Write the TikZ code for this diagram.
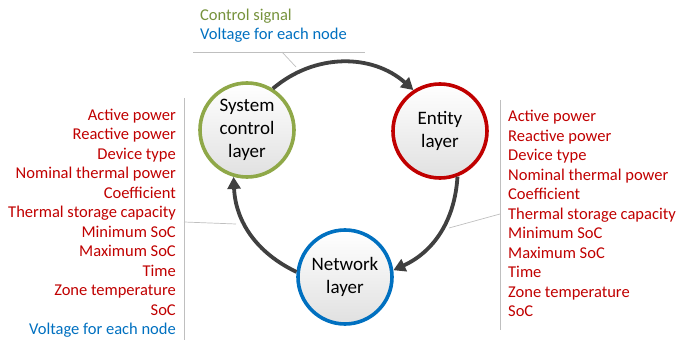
\documentclass[tikz,border=0pt]{standalone}
\usepackage{fontspec}
\setmainfont{Carlito}
\usetikzlibrary{arrows.meta}
\definecolor{cred}{HTML}{C00000}
\definecolor{cblue}{HTML}{0070C0}
\definecolor{cgreen}{HTML}{76923C}
\definecolor{cring}{HTML}{8FA848}
\definecolor{carrow}{HTML}{404040}
\definecolor{cline}{HTML}{BFBFBF}
\tikzset{
  layer/.style={circle, minimum size=94pt, inner sep=0pt, line width=3.6pt,
    top color=white, bottom color=black!12, align=center,
    font=\fontsize{19}{23}\selectfont},
  flow/.style={line width=3.8pt, draw=carrow, -{Triangle[length=12pt,width=13pt]}},
  callout/.style={draw=cline, line width=0.7pt},
  list/.style={inner sep=0pt, font=\fontsize{16.5}{19.5}\selectfont},
}
\begin{document}
\begin{tikzpicture}[x=1pt,y=-1pt]
\useasboundingbox (0,0) rectangle (678,345);
% layers
\node[layer, draw=cring] (sys) at (247,130) {System\\control\\layer};
\node[layer, draw=cred] (ent) at (440,131) {Entity\\layer};
\node[layer, draw=cblue] (net) at (345,277) {Network\\layer};
% flows
\draw[flow] (sys.58) to[bend left=41] (ent.123);
\draw[flow] (ent.-69) to[bend left=31] (net.8);
\draw[flow] (net.174) to[bend left=31] (sys.-106);
% texts
\node[list, anchor=west, align=left] (top) at (200,25.5)
  {\textcolor{cgreen}{Control signal}\\\textcolor{cblue}{Voltage for each node}};
\node[list, anchor=east, align=right, text=cred] (left) at (176,223)
  {Active power\\Reactive power\\Device type\\Nominal thermal power\\Coefficient\\Thermal storage capacity\\Minimum SoC\\Maximum SoC\\Time\\Zone temperature\\SoC\\\textcolor{cblue}{Voltage for each node}};
\node[list, anchor=west, align=left, text=cred] (right) at (508,213.5)
  {Active power\\Reactive power\\Device type\\Nominal thermal power\\Coefficient\\Thermal storage capacity\\Minimum SoC\\Maximum SoC\\Time\\Zone temperature\\SoC};
% callout lines
\coordinate (tl) at (193,52);
\coordinate (tr) at (365,52);
\coordinate (tm) at (282,52);
\coordinate (ta) at (296,67);
\draw[callout] (tl) -- (tr);
\draw[callout] (tm) -- (ta);
\coordinate (lt) at (184,98);
\coordinate (lb) at (184,340);
\coordinate (lm) at (184,222);
\coordinate (la) at (236,224);
\draw[callout] (lt) -- (lb);
\draw[callout] (lm) -- (la);
\coordinate (rt) at (500,100);
\coordinate (rb) at (500,330);
\coordinate (rm) at (500,214);
\coordinate (ra) at (449,228);
\draw[callout] (rt) -- (rb);
\draw[callout] (rm) -- (ra);
\end{tikzpicture}
\end{document}
